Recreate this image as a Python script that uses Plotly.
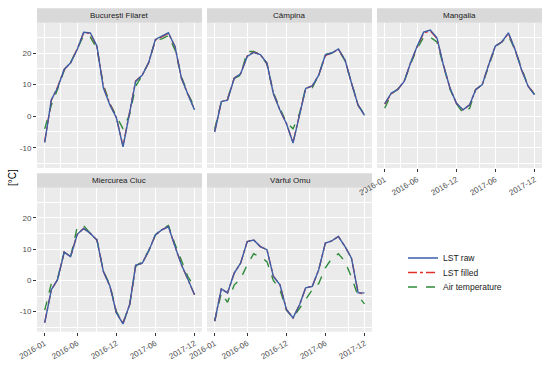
import plotly.graph_objects as go

months = ["2016-01-01","2016-02-01","2016-03-01","2016-04-01","2016-05-01","2016-06-01",
          "2016-07-01","2016-08-01","2016-09-01","2016-10-01","2016-11-01","2016-12-01",
          "2017-01-01","2017-02-01","2017-03-01","2017-04-01","2017-05-01","2017-06-01",
          "2017-07-01","2017-08-01","2017-09-01","2017-10-01","2017-11-01","2017-12-01"]

stations = ["București Filaret", "Câmpina", "Mangalia", "Miercurea Ciuc", "Vârful Omu"]

lst_raw = {
    "București Filaret": [-8.4, 5.2, 8.9, 14.8, 16.9, 21.1, 26.6, 26.4, 22.2, 9.0, 3.5, -0.5,
                          -9.7, 1.0, 11.0, 13.0, 17.0, 24.3, 25.4, 26.4, 22.0, 12.0, 6.8, 2.0],
    "Câmpina": [-5.0, 4.6, 5.1, 12.0, 13.4, 18.9, 20.2, 19.5, 16.8, 7.2, 1.9, -2.3,
                -8.5, 0.3, 8.8, 9.6, 13.0, 19.4, 20.0, 21.3, 17.8, 10.5, 3.5, 0.3],
    "Mangalia": [4.0, 7.3, 8.4, 11.0, 16.9, 22.2, 26.6, 27.3, 24.8, 16.3, 8.9, 4.1,
                 2.0, 3.6, 8.4, 10.0, 16.3, 22.2, 23.5, 26.4, 21.1, 14.8, 9.5, 6.8],
    "Miercurea Ciuc": [-13.6, -3.0, 0.2, 9.0, 7.6, 14.7, 16.6, 15.0, 12.9, 2.9, -1.9, -10.4,
                       -13.9, -7.7, 4.8, 5.5, 9.4, 14.5, 16.1, 17.2, 10.8, 5.0, 0.2, -4.6],
    "Vârful Omu": [-13.0, -2.7, -4.0, 2.3, 5.5, 12.4, 12.9, 10.8, 9.8, 1.3, -1.4, -9.3,
                   -12.0, -7.7, -2.4, -1.9, 3.4, 11.9, 12.6, 14.0, 10.8, 7.1, -4.0, -4.0],
}

lst_filled = {
    "București Filaret": [-8.0, 5.0, 9.2, 14.8, 16.9, 21.3, 26.4, 26.2, 22.0, 9.3, 3.8, -0.5,
                          -9.5, 1.2, 11.2, 13.0, 17.0, 24.1, 25.2, 26.2, 22.0, 12.0, 6.8, 2.2],
    "Câmpina": [-4.8, 4.6, 5.3, 12.0, 13.4, 19.1, 20.3, 19.5, 16.8, 7.2, 1.9, -2.3,
                -8.3, 0.5, 8.8, 9.6, 13.0, 19.2, 20.0, 21.2, 17.8, 10.5, 3.5, 0.3],
    "Mangalia": [3.8, 7.1, 8.4, 11.0, 16.9, 22.0, 26.3, 27.0, 24.6, 16.3, 8.9, 4.1,
                 2.0, 3.6, 8.4, 10.0, 16.3, 22.2, 23.5, 26.2, 21.1, 14.8, 9.5, 7.0],
    "Miercurea Ciuc": [-13.4, -3.0, 0.2, 9.0, 7.6, 14.7, 16.6, 15.0, 12.9, 2.9, -1.9, -10.4,
                       -13.7, -7.7, 4.8, 5.5, 9.4, 14.5, 16.1, 17.2, 10.8, 5.0, 0.2, -4.6],
    "Vârful Omu": [-13.0, -2.7, -4.0, 2.3, 5.5, 12.4, 12.9, 10.8, 9.8, 1.3, -1.4, -9.3,
                   -12.0, -7.7, -2.4, -1.9, 3.4, 11.9, 12.6, 14.0, 10.8, 7.1, -3.8, -4.6],
}

air_temp = {
    "București Filaret": [-4.0, 3.5, 8.5, 14.5, 17.0, 21.5, 25.5, 25.0, 21.5, 10.0, 4.0, 0.0,
                          -4.0, 0.5, 9.5, 13.0, 17.0, 24.0, 24.5, 25.5, 21.0, 12.5, 7.0, 3.0],
    "Câmpina": [-4.0, 4.5, 5.5, 12.0, 13.0, 20.5, 20.5, 19.5, 16.5, 7.5, 2.5, -2.0,
                -4.0, 1.0, 9.0, 9.0, 13.0, 19.5, 20.0, 21.0, 17.5, 10.5, 3.5, 0.5],
    "Mangalia": [2.5, 7.0, 8.5, 11.0, 16.5, 21.5, 25.0, 25.0, 23.5, 16.0, 8.5, 4.0,
                 1.0, 2.5, 8.5, 10.0, 16.0, 22.0, 23.5, 25.5, 21.0, 15.0, 9.5, 7.0],
    "Miercurea Ciuc": [-9.5, -1.0, 0.5, 9.0, 7.5, 17.0, 17.5, 15.0, 13.0, 3.0, -1.5, -10.0,
                       -13.5, -8.0, 4.5, 6.0, 9.5, 14.5, 16.5, 17.5, 11.5, 6.0, 1.0, -2.0],
    "Vârful Omu": [-13.0, -4.0, -7.0, -1.5, 0.5, 5.0, 8.5, 7.5, 6.0, 0.0, -3.0, -9.5,
                   -12.0, -9.0, -6.0, -3.0, -1.0, 4.0, 7.0, 8.5, 6.0, 1.0, -5.0, -7.5],
}

x_tickvals = ["2016-01-01", "2016-06-01", "2016-12-01", "2017-06-01", "2017-12-01"]
x_ticktext = ["2016-01", "2016-06", "2016-12", "2017-06", "2017-12"]
x_minor = ["2016-03-17", "2016-09-01", "2017-03-17", "2017-09-15"]
y_tickvals = [-10, 0, 10, 20]
y_ticktext = ["-10", "0", "10", "20"]
y_minor = [-15, -5, 5, 15, 25]

# (name, data, colour, dash, legend id)
series = [
    ("Air temperature", air_temp, "#2E8B3A", "dash", "legend3"),
    ("LST filled", lst_filled, "#E0302A", "dashdot", "legend2"),
    ("LST raw", lst_raw, "#3A5FA8", "solid", "legend"),
]

W, H = 550, 365
cols = [(37, 202), (207, 372), (377, 542)]
rows = [(22.7, 168), (187.7, 331.7)]
strip_h = 14.4
positions = [(0, 0), (0, 1), (0, 2), (1, 0), (1, 1)]

fig = go.Figure()
font_family = "Liberation Sans, Arial, sans-serif"

for i, st in enumerate(stations):
    idx = i + 1
    xa = "x" if idx == 1 else f"x{idx}"
    ya = "y" if idx == 1 else f"y{idx}"
    for name, data, color, dash, leg in series:
        fig.add_trace(go.Scatter(
            x=months, y=data[st], mode="lines", name=name,
            line=dict(color=color, width=1.4, dash=dash),
            xaxis=xa, yaxis=ya, showlegend=(i == 0), legendgroup=name, legend=leg,
        ))

layout = {}
shapes = []
annotations = []
for i, st in enumerate(stations):
    idx = i + 1
    r, c = positions[i]
    x0, x1 = cols[c]
    y0, y1 = rows[r]
    xdom = [x0 / W, x1 / W]
    ydom = [1 - y1 / H, 1 - y0 / H]
    show_x = (r == 1) or (c == 2)
    show_y = (c == 0)
    xkey = "xaxis" if idx == 1 else f"xaxis{idx}"
    ykey = "yaxis" if idx == 1 else f"yaxis{idx}"
    layout[xkey] = dict(
        domain=xdom, anchor="y" if idx == 1 else f"y{idx}", type="date",
        range=["2015-11-26", "2018-01-05"], automargin=False,
        tickmode="array", tickvals=x_tickvals, ticktext=x_ticktext,
        showticklabels=show_x, tickangle=-30,
        ticks="outside" if show_x else "", ticklen=3, tickcolor="#333333", tickwidth=1,
        tickfont=dict(size=8, color="#4D4D4D", family=font_family),
        showgrid=True, gridcolor="white", gridwidth=1.1,
        minor=dict(tickmode="array", tickvals=x_minor, showgrid=True, gridcolor="white",
                   gridwidth=0.5, ticks=""),
        zeroline=False, showline=False, fixedrange=True,
    )
    layout[ykey] = dict(
        domain=ydom, anchor="x" if idx == 1 else f"x{idx}",
        range=[-16.4, 29.6], automargin=False,
        tickmode="array", tickvals=y_tickvals, ticktext=y_ticktext,
        showticklabels=show_y,
        ticks="outside" if show_y else "", ticklen=3, tickcolor="#333333", tickwidth=1,
        tickfont=dict(size=8, color="#4D4D4D", family=font_family),
        showgrid=True, gridcolor="white", gridwidth=1.1,
        minor=dict(tickmode="array", tickvals=y_minor, showgrid=True, gridcolor="white",
                   gridwidth=0.5, ticks=""),
        zeroline=False, showline=False, fixedrange=True,
    )
    shapes.append(dict(type="rect", xref="paper", yref="paper",
                       x0=xdom[0], x1=xdom[1], y0=ydom[1], y1=ydom[1] + strip_h / H,
                       fillcolor="#D9D9D9", line=dict(width=0), layer="below"))
    annotations.append(dict(text=st, xref="paper", yref="paper",
                            x=(xdom[0] + xdom[1]) / 2, y=ydom[1] + strip_h / (2 * H),
                            showarrow=False, xanchor="center", yanchor="middle",
                            font=dict(size=8, color="#1A1A1A", family=font_family)))

annotations.append(dict(text="[°C]", xref="paper", yref="paper", x=12 / W, y=1 - 178 / H,
                        showarrow=False, textangle=-90, xanchor="center", yanchor="middle",
                        font=dict(size=10, color="black", family=font_family)))

leg_common = dict(xanchor="left", yanchor="middle", bgcolor="rgba(0,0,0,0)",
                  font=dict(size=8.5, color="#1A1A1A", family=font_family), itemwidth=30)
leg_x = 403 / W
fig.update_layout(
    **layout,
    width=W, height=H,
    margin=dict(l=0, r=0, t=0, b=0, autoexpand=False),
    paper_bgcolor="white", plot_bgcolor="#EBEBEB",
    shapes=shapes, annotations=annotations,
    font=dict(family=font_family),
    legend=dict(x=leg_x, y=1 - 258 / H, **leg_common),
    legend2=dict(x=leg_x, y=1 - 272.5 / H, **leg_common),
    legend3=dict(x=leg_x, y=1 - 287 / H, **leg_common),
)

fig.write_html("out.html", config={"displayModeBar": False},
               post_script="document.body.style.margin='0px';")
